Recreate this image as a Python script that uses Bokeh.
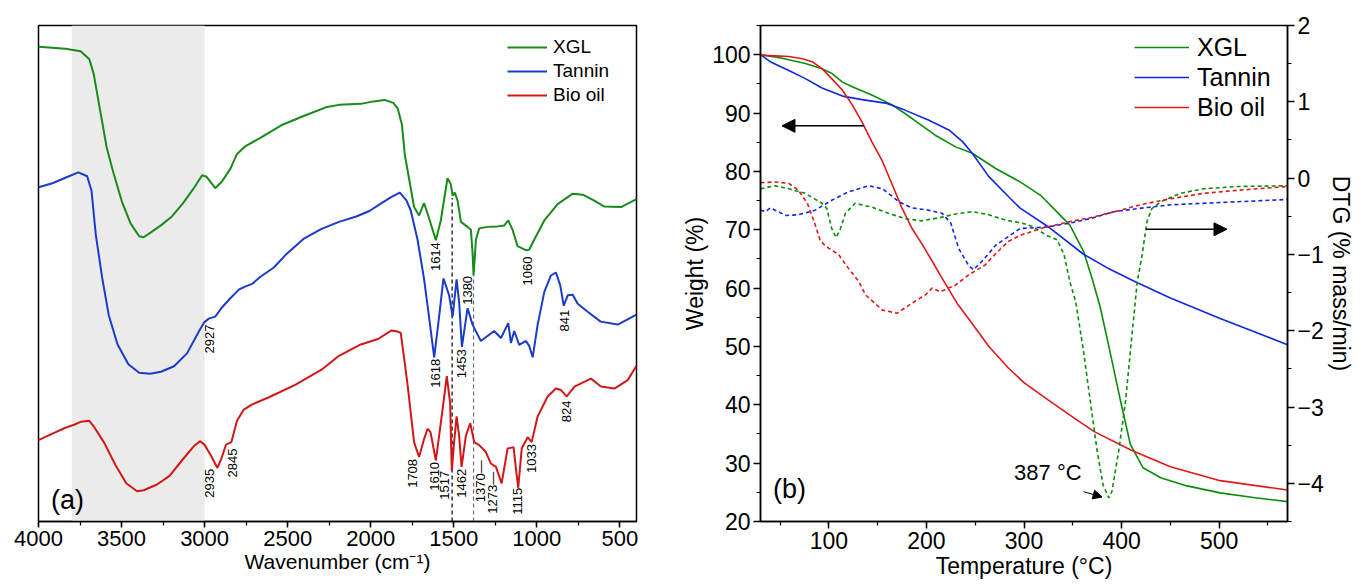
from math import pi
from bokeh.plotting import figure
from bokeh.layouts import row
from bokeh.models import (Range1d, LinearAxis, SingleIntervalTicker, BoxAnnotation,
                          Arrow, NormalHead, Legend)
from bokeh.core.properties import value
from bokeh.embed import file_html
from bokeh.resources import INLINE

FONT = "Liberation Sans"

# ---------------- (a) FTIR data ----------------
xgl_wn = [4000, 3838, 3746, 3694, 3668, 3629, 3590, 3550, 3498, 3446, 3394, 3367, 3328, 3263, 3197, 3132,
          3067, 3015, 2988, 2936, 2897, 2845, 2805, 2753, 2662, 2531, 2400, 2270, 2191, 2060, 1982, 1917,
          1864, 1838, 1812, 1795, 1739, 1709, 1679, 1648, 1608, 1578, 1538, 1518, 1507, 1494, 1477, 1457,
          1417, 1397, 1387, 1381, 1375, 1367, 1347, 1297, 1236, 1196, 1172, 1146, 1116, 1066, 1046, 1016,
          955, 875, 784, 724, 654, 593, 493, 400]
xgl_t = [95.7, 95.3, 94.8, 93.2, 90.3, 82.9, 75.5, 70.4, 64.5, 60.1, 57.5, 57.3, 58.2, 59.7, 61.5, 64.1,
         67.1, 69.8, 69.5, 67.2, 68.5, 71.1, 74.1, 75.7, 77.4, 80.0, 81.8, 83.5, 84.0, 84.2, 84.7, 85.0,
         84.4, 83.3, 80.0, 74.0, 63.4, 61.7, 64.2, 61.1, 56.7, 60.7, 69.2, 68.0, 65.7, 66.3, 64.7, 60.4,
         59.4, 58.8, 54.2, 49.6, 52.5, 56.8, 59.1, 59.4, 59.5, 59.7, 60.7, 58.8, 55.5, 54.7, 54.8, 56.8,
         60.7, 64.0, 66.1, 65.9, 64.7, 63.5, 63.4, 65.0]

tan_wn = [4000, 3916, 3838, 3760, 3707, 3681, 3655, 3616, 3577, 3524, 3459, 3394, 3328, 3263, 3184, 3106,
          3028, 3001, 2975, 2936, 2897, 2845, 2792, 2753, 2714, 2662, 2583, 2505, 2400, 2296, 2191, 2087,
          2008, 1930, 1877, 1825, 1786, 1759, 1718, 1679, 1648, 1618, 1594, 1562, 1528, 1507, 1483, 1468,
          1451, 1417, 1387, 1337, 1257, 1216, 1172, 1156, 1136, 1106, 1066, 1046, 1025, 995, 955, 915,
          885, 859, 838, 814, 784, 754, 694, 616, 513, 400]
tan_t = [67.4, 68.2, 69.3, 70.4, 69.6, 66.7, 57.8, 49.0, 41.6, 35.7, 31.7, 30.0, 29.8, 30.2, 31.3, 33.9,
         38.7, 40.2, 40.9, 41.3, 43.1, 45.0, 46.8, 47.4, 47.9, 49.4, 51.2, 54.0, 57.1, 59.0, 60.4, 61.5,
         62.6, 64.3, 65.4, 66.3, 64.8, 62.7, 56.8, 48.9, 41.0, 33.1, 39.7, 49.0, 45.6, 41.3, 48.8, 44.3,
         35.2, 43.0, 39.7, 36.4, 38.4, 37.0, 40.0, 36.0, 38.4, 35.6, 36.4, 35.4, 33.1, 39.7, 46.3, 49.6,
         50.2, 47.6, 43.5, 45.6, 45.7, 43.9, 42.3, 40.3, 39.7, 41.7]

bio_wn = [4000, 3916, 3838, 3786, 3746, 3694, 3668, 3603, 3537, 3472, 3407, 3367, 3289, 3211, 3132, 3067,
          3028, 3001, 2962, 2923, 2897, 2871, 2839, 2805, 2766, 2714, 2609, 2452, 2296, 2191, 2060, 1956,
          1877, 1838, 1819, 1779, 1739, 1709, 1680, 1658, 1640, 1608, 1578, 1542, 1522, 1512, 1498, 1483,
          1468, 1453, 1427, 1401, 1377, 1347, 1307, 1277, 1246, 1212, 1176, 1140, 1126, 1112, 1091, 1055,
          1031, 995, 935, 885, 855, 820, 774, 674, 614, 533, 453, 400]
bio_t = [16.4, 17.7, 18.9, 19.5, 20.1, 20.3, 19.2, 15.8, 11.4, 7.7, 6.1, 6.3, 7.4, 9.2, 12.5, 15.1,
         16.2, 15.5, 13.3, 10.8, 12.9, 15.5, 16.0, 20.3, 22.5, 23.6, 25.1, 27.6, 30.6, 33.4, 35.7, 36.8,
         38.5, 38.3, 38.0, 27.8, 16.0, 13.0, 16.5, 18.7, 18.0, 12.3, 19.9, 29.3, 23.9, 10.2, 16.0, 21.2,
         17.3, 11.0, 17.3, 19.8, 16.0, 15.4, 14.0, 11.7, 11.0, 7.7, 14.7, 15.0, 10.7, 6.8, 14.7, 17.0,
         16.0, 21.2, 25.2, 26.8, 26.5, 25.2, 27.2, 28.8, 27.2, 26.8, 28.5, 31.4]

peak_text = ["1614", "1060", "1380", "2927", "1618", "1453", "841", "2935", "2845", "1708", "1610",
             "1517", "1462", "1370\u2014", "1273\u2014", "1115", "1033", "824"]
peak_wn = [1608, 1055, 1417, 2970, 1608, 1451, 835, 2970, 2832, 1749, 1618, 1558, 1453, 1337, 1266,
           1116, 1031, 824]
peak_y = [53.4, 50.5, 46.6, 36.8, 29.9, 31.8, 40.5, 7.7, 11.8, 9.7, 9.1, 7.3, 7.7, 8.1, 5.8, 4.1, 12.7, 22.2]

guide_wn = [1510, 1381]
guide_top = [65.2, 49.7]
guide_color = ["black", "#707070"]

band_wn = [3000, 3800]

# ---------------- (b) TG / DTG data ----------------
xgl_T = [30, 52, 76, 93, 103, 114, 124, 144, 165, 185, 209, 230, 247, 271, 296, 317, 337, 347, 361, 370,
         378, 388, 399, 409, 422, 440, 467, 501, 535, 570]
xgl_W = [100.0, 99.4, 98.5, 97.6, 96.8, 95.3, 94.5, 93.1, 91.4, 89.1, 86.2, 84.2, 83.1, 80.5, 78.2, 75.9,
         72.5, 70.8, 66.3, 61.5, 56.8, 49.2, 40.6, 33.2, 29.2, 27.5, 26.1, 24.9, 24.1, 23.4]

tan_T = [30, 40, 59, 76, 93, 114, 134, 158, 178, 202, 223, 237, 247, 264, 284, 296, 324, 361, 385, 414,
         450, 501, 570]
tan_W = [100.0, 98.8, 97.3, 95.9, 94.3, 92.9, 92.3, 91.7, 90.5, 88.8, 87.1, 85.1, 83.1, 79.1, 75.7, 73.7,
         70.6, 65.8, 63.5, 61.1, 58.3, 54.8, 50.3]

bio_T = [30, 45, 59, 73, 83, 93, 103, 114, 124, 134, 144, 155, 165, 175, 185, 196, 206, 216, 231, 247,
         264, 284, 300, 325, 350, 372, 410, 450, 501, 570]
bio_W = [99.9, 99.8, 99.7, 99.3, 98.8, 97.6, 95.9, 93.9, 91.4, 88.5, 85.1, 81.7, 77.7, 73.7, 70.3, 67.4,
         64.6, 61.7, 57.5, 53.9, 50.0, 46.3, 43.8, 40.8, 37.9, 35.4, 32.2, 29.4, 27.0, 25.4]

xgl_dT = [30, 45, 59, 76, 93, 98, 103, 107.5, 112, 117, 127, 144, 161, 178, 195, 213, 230, 247, 264, 281,
          298, 310, 323, 334, 341, 347, 353, 361, 368, 375, 381, 387, 390, 397, 404, 409, 414, 416, 421,
          426, 431, 440, 460, 484, 518, 570]
xgl_D = [-0.14, -0.10, -0.14, -0.20, -0.33, -0.40, -0.66, -0.78, -0.66, -0.46, -0.33, -0.38, -0.46, -0.53,
         -0.56, -0.52, -0.47, -0.44, -0.48, -0.55, -0.59, -0.64, -0.75, -0.81, -1.00, -1.36, -1.62, -2.27,
         -2.93, -3.58, -4.02, -4.19, -4.11, -3.58, -2.93, -2.27, -1.62, -1.36, -1.01, -0.57, -0.40, -0.31,
         -0.20, -0.14, -0.11, -0.10]

tan_dT = [30, 35, 40, 45, 56, 69, 86, 103, 120, 141, 155, 172, 185, 202, 216, 225, 233, 243, 248, 257,
          271, 288, 296, 324, 347, 368, 392, 416, 450, 501, 570]
tan_D = [-0.42, -0.44, -0.39, -0.42, -0.49, -0.48, -0.42, -0.29, -0.18, -0.10, -0.14, -0.31, -0.39, -0.42,
         -0.46, -0.59, -0.92, -1.14, -1.20, -1.09, -0.88, -0.73, -0.66, -0.64, -0.59, -0.53, -0.44, -0.40,
         -0.35, -0.32, -0.28]

bio_dT = [30, 45, 59, 69, 78, 85, 91.5, 100, 110, 120, 131, 137.5, 155, 170, 185, 199, 206, 214, 230,
          243, 260, 271, 284, 296, 317, 347, 371, 399, 419, 450, 484, 518, 570]
bio_D = [-0.06, -0.05, -0.07, -0.16, -0.33, -0.57, -0.83, -0.92, -1.00, -1.18, -1.36, -1.53, -1.73, -1.77,
         -1.64, -1.53, -1.44, -1.49, -1.40, -1.27, -1.14, -0.99, -0.83, -0.75, -0.66, -0.57, -0.51, -0.42,
         -0.35, -0.27, -0.20, -0.16, -0.11]

minus = {-4: "\u22124", -3: "\u22123", -2: "\u22122", -1: "\u22121"}

GREEN_A, BLUE_A, RED_A = "#1a8a1a", "#1c3cc8", "#d01818"
GREEN_B, BLUE_B, RED_B = "#0b8c0b", "#1028e0", "#e01818"


def style_axis(ax, size, tick_out=6, std=3):
    ax.axis_line_color = "black"
    ax.axis_line_width = 1.5
    ax.major_tick_line_color = "black"
    ax.minor_tick_line_color = "black"
    ax.major_tick_line_width = 1.5
    ax.minor_tick_line_width = 1.2
    ax.major_tick_in = 0
    ax.minor_tick_in = 0
    ax.major_tick_out = tick_out
    ax.minor_tick_out = 4
    ax.major_label_text_font = FONT
    ax.major_label_text_font_size = size
    ax.major_label_text_color = "black"
    ax.major_label_standoff = std
    ax.axis_label_text_font = FONT
    ax.axis_label_text_font_style = "normal"
    ax.axis_label_text_color = "black"
    ax.axis_label_standoff = 1


# ---------------- figure (a) ----------------
pa = figure(width=672, height=583, title=None, output_backend="svg", toolbar_location=None,
            x_range=Range1d(4000, 400), y_range=Range1d(0, 100),
            min_border_left=38, min_border_right=36, min_border_top=18, min_border_bottom=59)
pa.xgrid.visible = False
pa.ygrid.visible = False
pa.yaxis.visible = False
pa.outline_line_color = "black"
pa.outline_line_width = 1.5
pa.xaxis.ticker = SingleIntervalTicker(interval=500, num_minor_ticks=2)
style_axis(pa.xaxis[0], "22px", tick_out=6, std=3)
pa.xaxis.axis_label = "Wavenumber (cm\u207b\u00b9)"
pa.xaxis.axis_label_text_font_size = "21px"

pa.add_layout(BoxAnnotation(left=band_wn[0], right=band_wn[1], fill_color="#ebebeb", fill_alpha=1.0,
                            line_alpha=0, level="underlay"))
pa.segment(x0=guide_wn, y0=[0, 0], x1=guide_wn, y1=guide_top, line_color=guide_color,
           line_dash="4 3", line_width=1.2)
la1 = pa.line(xgl_wn, xgl_t, line_color=GREEN_A, line_width=2)
la2 = pa.line(tan_wn, tan_t, line_color=BLUE_A, line_width=2)
la3 = pa.line(bio_wn, bio_t, line_color=RED_A, line_width=2)
pa.text(x=peak_wn, y=peak_y, text=peak_text, angle=pi / 2, text_font=value(FONT),
        text_font_size=value("13px"), text_align="center", text_baseline="middle", text_color="black")
pa.text(x=[3825], y=[4.4], text=["(a)"], text_font=value(FONT), text_font_size=value("27px"),
        text_align="center", text_baseline="middle", text_color="black")

lega = Legend(items=[("XGL", [la1]), ("Tannin", [la2]), ("Bio oil", [la3])], location="top_right",
              border_line_alpha=0, background_fill_alpha=0, margin=0, padding=10, spacing=0,
              glyph_width=40, glyph_height=24, label_height=24, label_width=73, label_standoff=6,
              label_text_font=FONT, label_text_font_size="19px", label_text_color="black")
pa.add_layout(lega)

# ---------------- figure (b) ----------------
pb = figure(width=691, height=583, title=None, output_backend="svg", toolbar_location=None,
            x_range=Range1d(30, 570), y_range=Range1d(20, 105),
            min_border_left=88, min_border_right=76, min_border_top=25, min_border_bottom=62)
pb.extra_y_ranges = {"dtg": Range1d(-4.5, 2)}
pb.xgrid.visible = False
pb.ygrid.visible = False
pb.outline_line_color = "black"
pb.outline_line_width = 1.5
pb.xaxis.ticker = SingleIntervalTicker(interval=100, num_minor_ticks=2)
pb.yaxis.ticker = SingleIntervalTicker(interval=10, num_minor_ticks=2)
style_axis(pb.xaxis[0], "23px", tick_out=7, std=3)
style_axis(pb.yaxis[0], "23px", tick_out=7, std=3)
pb.xaxis.axis_label = "Temperature (\u00b0C)"
pb.yaxis.axis_label = "Weight (%)"
pb.xaxis.axis_label_text_font_size = "23px"
pb.yaxis.axis_label_text_font_size = "23px"

rax = LinearAxis(y_range_name="dtg", ticker=SingleIntervalTicker(interval=1, num_minor_ticks=2),
                 axis_label="DTG (% mass/min)")
style_axis(rax, "23px", tick_out=7, std=3)
rax.axis_label_text_font_size = "23px"
rax.major_label_overrides = minus
pb.add_layout(rax, "right")

lb1 = pb.line(xgl_T, xgl_W, line_color=GREEN_B, line_width=1.6)
lb2 = pb.line(tan_T, tan_W, line_color=BLUE_B, line_width=1.6)
lb3 = pb.line(bio_T, bio_W, line_color=RED_B, line_width=1.6)
pb.line(xgl_dT, xgl_D, y_range_name="dtg", line_color=GREEN_B, line_width=1.6, line_dash="4 3")
pb.line(tan_dT, tan_D, y_range_name="dtg", line_color=BLUE_B, line_width=1.6, line_dash="4 3")
pb.line(bio_dT, bio_D, y_range_name="dtg", line_color=RED_B, line_width=1.6, line_dash="4 3")

pb.add_layout(Arrow(x_start=136, y_start=87.8, x_end=52, y_end=87.8, line_width=1.5,
                    end=NormalHead(size=13, fill_color="black", line_color="black")))
pb.add_layout(Arrow(x_start=425, y_start=-0.67, x_end=508, y_end=-0.67, y_range_name="dtg",
                    line_width=1.5, end=NormalHead(size=13, fill_color="black", line_color="black")))
pb.add_layout(Arrow(x_start=361, y_start=25.1, x_end=380, y_end=24.2, line_width=1,
                    end=NormalHead(size=9, fill_color="black", line_color="black")))

pb.text(x=[359], y=[28.4], text=["387 \u00b0C"], text_font=value(FONT), text_font_size=value("22px"),
        text_align="right", text_baseline="middle", text_color="black")
pb.text(x=[59.7], y=[25.6], text=["(b)"], text_font=value(FONT), text_font_size=value("27px"),
        text_align="center", text_baseline="middle", text_color="black")

legb = Legend(items=[("XGL", [lb1]), ("Tannin", [lb2]), ("Bio oil", [lb3])], location="top_right",
              border_line_alpha=0, background_fill_alpha=0, margin=0, padding=7, spacing=0,
              glyph_width=55, glyph_height=30, label_height=30, label_width=83, label_standoff=8,
              label_text_font=FONT, label_text_font_size="25px", label_text_color="black")
pb.add_layout(legb)

layout = row(pa, pb)
open("out.html", "w").write(file_html(layout, INLINE))
